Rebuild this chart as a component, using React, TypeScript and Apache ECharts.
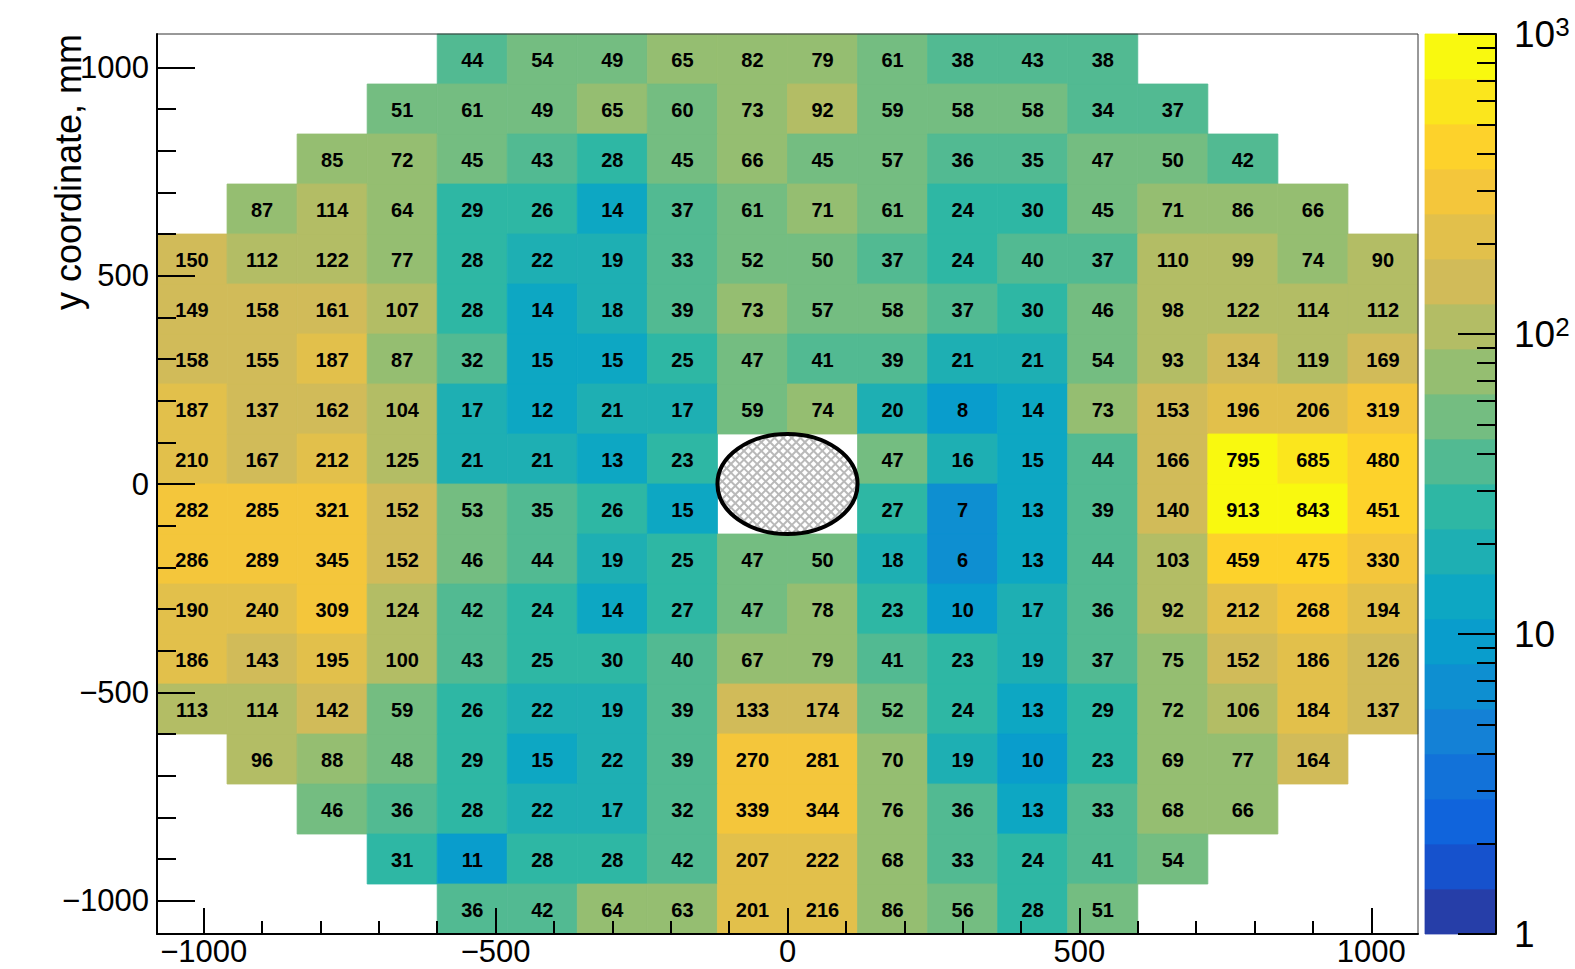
import React, { useEffect, useRef } from 'react';
import * as echarts from 'echarts';

// ---- data ----
const xCenters = [-1020, -900, -780, -660, -540, -420, -300, -180, -60, 60, 180, 300, 420, 540, 660, 780, 900, 1020];
const yCenters = [1020, 900, 780, 660, 540, 420, 300, 180, 60, -60, -180, -300, -420, -540, -660, -780, -900, -1020];
const binWidth = 120;
const _ = null;
const row01 = [_, _, _, _, 44, 54, 49, 65, 82, 79, 61, 38, 43, 38, _, _, _, _];
const row02 = [_, _, _, 51, 61, 49, 65, 60, 73, 92, 59, 58, 58, 34, 37, _, _, _];
const row03 = [_, _, 85, 72, 45, 43, 28, 45, 66, 45, 57, 36, 35, 47, 50, 42, _, _];
const row04 = [_, 87, 114, 64, 29, 26, 14, 37, 61, 71, 61, 24, 30, 45, 71, 86, 66, _];
const row05 = [150, 112, 122, 77, 28, 22, 19, 33, 52, 50, 37, 24, 40, 37, 110, 99, 74, 90];
const row06 = [149, 158, 161, 107, 28, 14, 18, 39, 73, 57, 58, 37, 30, 46, 98, 122, 114, 112];
const row07 = [158, 155, 187, 87, 32, 15, 15, 25, 47, 41, 39, 21, 21, 54, 93, 134, 119, 169];
const row08 = [187, 137, 162, 104, 17, 12, 21, 17, 59, 74, 20, 8, 14, 73, 153, 196, 206, 319];
const row09 = [210, 167, 212, 125, 21, 21, 13, 23, _, _, 47, 16, 15, 44, 166, 795, 685, 480];
const row10 = [282, 285, 321, 152, 53, 35, 26, 15, _, _, 27, 7, 13, 39, 140, 913, 843, 451];
const row11 = [286, 289, 345, 152, 46, 44, 19, 25, 47, 50, 18, 6, 13, 44, 103, 459, 475, 330];
const row12 = [190, 240, 309, 124, 42, 24, 14, 27, 47, 78, 23, 10, 17, 36, 92, 212, 268, 194];
const row13 = [186, 143, 195, 100, 43, 25, 30, 40, 67, 79, 41, 23, 19, 37, 75, 152, 186, 126];
const row14 = [113, 114, 142, 59, 26, 22, 19, 39, 133, 174, 52, 24, 13, 29, 72, 106, 184, 137];
const row15 = [_, 96, 88, 48, 29, 15, 22, 39, 270, 281, 70, 19, 10, 23, 69, 77, 164, _];
const row16 = [_, _, 46, 36, 28, 22, 17, 32, 339, 344, 76, 36, 13, 33, 68, 66, _, _];
const row17 = [_, _, _, 31, 11, 28, 28, 42, 207, 222, 68, 33, 24, 41, 54, _, _, _];
const row18 = [_, _, _, _, 36, 42, 64, 63, 201, 216, 86, 56, 28, 51, _, _, _, _];
const rows = [row01, row02, row03, row04, row05, row06, row07, row08, row09, row10, row11, row12, row13, row14, row15, row16, row17, row18];

// beam hole (x, y, radius x, radius y)
const hole = [0, 0, 120, 120];

const xMajorTicks = [-1000, -500, 0, 500, 1000];
const xMinorTicks = [-1000, -900, -800, -700, -600, -500, -400, -300, -200, -100, 0, 100, 200, 300, 400, 500, 600, 700, 800, 900, 1000];
const yMajorTicks = [-1000, -500, 0, 500, 1000];
const yMinorTicks = xMinorTicks;
const zMajorTicks = [1, 10, 100, 1000];
const zMinorTicks = [2, 3, 4, 5, 6, 7, 8, 9, 20, 30, 40, 50, 60, 70, 80, 90, 200, 300, 400, 500, 600, 700, 800, 900];
const zLogMin = 0;
const zLogMax = 3;
const nContours = 20;

// ---- ROOT kBird palette ----
const birdStops = [0.0, 0.125, 0.25, 0.375, 0.5, 0.625, 0.75, 0.875, 1.0];
const birdR = [0.2082, 0.0592, 0.078, 0.0232, 0.1802, 0.5301, 0.8186, 0.9956, 0.9764];
const birdG = [0.1664, 0.3599, 0.5041, 0.6419, 0.7178, 0.7492, 0.7328, 0.7862, 0.9832];
const birdB = [0.5293, 0.8684, 0.8385, 0.7914, 0.6425, 0.4662, 0.3499, 0.1968, 0.0539];

function buildPalette(n: number): string[] {
  const out: string[] = [];
  for (let g = 1; g < birdStops.length; g++) {
    const nc = Math.floor(n * birdStops[g]) - Math.floor(n * birdStops[g - 1]);
    for (let c = 0; c < nc; c++) {
      const r = birdR[g - 1] + (c * (birdR[g] - birdR[g - 1])) / nc;
      const gg = birdG[g - 1] + (c * (birdG[g] - birdG[g - 1])) / nc;
      const b = birdB[g - 1] + (c * (birdB[g] - birdB[g - 1])) / nc;
      const h = (x: number) => Math.round(x * 255).toString(16).padStart(2, '0');
      out.push('#' + h(r) + h(gg) + h(b));
    }
  }
  return out;
}
const palette = buildPalette(255);
const bandStep = (zLogMax - zLogMin) / nContours;
const bandColors: string[] = [];
for (let i = 0; i < nContours; i++) {
  bandColors.push(palette[Math.floor(((i + 0.99) * palette.length) / nContours)]);
}

const FONT = 'Liberation Sans, Arial, Helvetica, sans-serif';
const minus = (v: number) => (v < 0 ? '\u2212' + Math.abs(v) : String(v));

export default function App() {
  const ref = useRef<HTMLDivElement>(null);
  useEffect(() => {
    if (!ref.current) return;
    const chart = echarts.init(ref.current, undefined, { renderer: 'svg' });

    const cellData: any[] = [];
    rows.forEach((row, ri) => {
      row.forEach((v, ci) => {
        if (v !== null && v !== undefined) {
          cellData.push([xCenters[ci], yCenters[ri], Math.log10(v), v]);
        }
      });
    });
    const bandData: any[] = [];
    for (let i = 0; i < nContours; i++) {
      const lo = zLogMin + i * bandStep;
      const hi = lo + bandStep;
      bandData.push([lo, hi, (lo + hi) / 2]);
    }

    const pieces = bandColors.map((color, i) => ({
      gte: i === 0 ? -10 : (i - 0.01) * bandStep,
      lt: i === nContours - 1 ? 10 : (i + 0.99) * bandStep,
      color,
    }));

    const tickLine = { color: '#000', width: 2 };
    const option: any = {
      animation: false,
      backgroundColor: '#fff',
      textStyle: { fontFamily: FONT },
      grid: [
        { left: 157, top: 34, width: 1261, height: 900, show: true, borderColor: '#333', borderWidth: 1, backgroundColor: 'transparent', z: 10 },
        { left: 1425, top: 34, width: 71, height: 900, show: false },
      ],
      visualMap: {
        type: 'piecewise',
        show: false,
        dimension: 2,
        seriesIndex: [0, 1],
        pieces,
      },
      xAxis: [
        {
          gridIndex: 0, type: 'value', min: -1080, max: 1080, position: 'bottom', z: 10,
          axisLine: { show: true, onZero: false, lineStyle: tickLine },
          axisTick: { show: true, inside: true, length: 26, customValues: xMajorTicks, lineStyle: tickLine },
          axisLabel: { customValues: xMajorTicks, formatter: minus, fontSize: 31, color: '#000', fontFamily: FONT, margin: 5, lineHeight: 24 },
          splitLine: { show: false },
        },
        {
          gridIndex: 0, type: 'value', min: -1080, max: 1080, position: 'bottom', z: 10,
          axisLine: { show: false, onZero: false },
          axisTick: { show: true, inside: true, length: 13, customValues: xMinorTicks, lineStyle: tickLine },
          axisLabel: { show: false },
          splitLine: { show: false },
        },
        { gridIndex: 1, type: 'value', min: 0, max: 1, show: false, axisLine: { onZero: false } },
      ],
      yAxis: [
        {
          gridIndex: 0, type: 'value', min: -1080, max: 1080, position: 'left', z: 10,
          axisLine: { show: true, onZero: false, lineStyle: tickLine },
          axisTick: { show: true, inside: true, length: 38, customValues: yMajorTicks, lineStyle: tickLine },
          axisLabel: { customValues: yMajorTicks, formatter: minus, fontSize: 31, color: '#000', fontFamily: FONT, margin: 8 },
          splitLine: { show: false },
        },
        {
          gridIndex: 0, type: 'value', min: -1080, max: 1080, position: 'left', z: 10,
          axisLine: { show: false, onZero: false },
          axisTick: { show: true, inside: true, length: 19, customValues: yMinorTicks, lineStyle: tickLine },
          axisLabel: { show: false },
          splitLine: { show: false },
        },
        {
          gridIndex: 1, type: 'value', min: zLogMin, max: zLogMax, position: 'right', z: 10,
          axisLine: { show: true, onZero: false, lineStyle: tickLine },
          axisTick: { show: true, inside: true, length: 38, customValues: zMajorTicks.map(Math.log10), lineStyle: tickLine },
          axisLabel: {
            customValues: zMajorTicks.map(Math.log10),
            margin: 18,
            formatter: (v: number) => {
              const e = Math.round(v);
              if (e === 0) return '{b|1}';
              if (e === 1) return '{b|10}';
              return '{b|10}{s|' + e + '}';
            },
            rich: {
              b: { fontSize: 37, fontFamily: FONT, color: '#000', lineHeight: 40 },
              s: { fontSize: 26, fontFamily: FONT, color: '#000', verticalAlign: 'top', lineHeight: 40 },
            },
          },
          splitLine: { show: false },
        },
        {
          gridIndex: 1, type: 'value', min: zLogMin, max: zLogMax, position: 'right', z: 10,
          axisLine: { show: false, onZero: false },
          axisTick: { show: true, inside: true, length: 19, customValues: zMinorTicks.map(Math.log10), lineStyle: tickLine },
          axisLabel: { show: false },
          splitLine: { show: false },
        },
      ],
      graphic: [
        {
          type: 'text', x: 68, y: 34, rotation: Math.PI / 2,
          style: { text: 'y coordinate, mm', fontSize: 36, fontFamily: FONT, fill: '#000', align: 'right', verticalAlign: 'middle' },
        },
      ],
      series: [
        {
          type: 'custom',
          xAxisIndex: 0,
          yAxisIndex: 0,
          data: cellData,
          encode: { x: 0, y: 1 },
          renderItem: (params: any, api: any) => {
            const x = api.value(0);
            const y = api.value(1);
            const v = api.value(3);
            const p0 = api.coord([x - binWidth / 2, y + binWidth / 2]);
            const p1 = api.coord([x + binWidth / 2, y - binWidth / 2]);
            const color = api.visual('color');
            return {
              type: 'group',
              children: [
                {
                  type: 'rect',
                  shape: { x: p0[0], y: p0[1], width: p1[0] - p0[0], height: p1[1] - p0[1] },
                  style: { fill: color, stroke: color, lineWidth: 0.8 },
                },
                {
                  type: 'text',
                  x: (p0[0] + p1[0]) / 2,
                  y: (p0[1] + p1[1]) / 2 + 1,
                  z2: 10,
                  style: { text: String(v), fontSize: 20, fontWeight: 'bold', fontFamily: FONT, fill: '#000', align: 'center', verticalAlign: 'middle' },
                },
              ],
            };
          },
        },
        {
          type: 'custom',
          xAxisIndex: 2,
          yAxisIndex: 2,
          data: bandData,
          encode: { y: [0, 1] },
          renderItem: (params: any, api: any) => {
            const lo = api.value(0);
            const hi = api.value(1);
            const p0 = api.coord([0, hi]);
            const p1 = api.coord([1, lo]);
            const color = api.visual('color');
            return {
              type: 'rect',
              shape: { x: p0[0], y: p0[1], width: p1[0] - p0[0], height: p1[1] - p0[1] },
              style: { fill: color, stroke: color, lineWidth: 0.8 },
            };
          },
        },
        {
          type: 'custom',
          xAxisIndex: 0,
          yAxisIndex: 0,
          data: [hole],
          encode: { x: 0, y: 1 },
          z: 5,
          renderItem: (params: any, api: any) => {
            const c = api.coord([api.value(0), api.value(1)]);
            const s = api.size([api.value(2), api.value(3)]);
            const rx = s[0];
            const ry = s[1];
            const children: any[] = [
              { type: 'ellipse', shape: { cx: c[0], cy: c[1], rx, ry }, style: { fill: '#fff' } },
            ];
            const step = 8.7;
            const A = 1 / (rx * rx) + 1 / (ry * ry);
            for (let k = -(rx + ry); k <= rx + ry; k += step) {
              for (const sg of [1, -1]) {
                const B = (2 * sg * k) / (ry * ry);
                const C = (k * k) / (ry * ry) - 1;
                const D = B * B - 4 * A * C;
                if (D <= 0) continue;
                const X1 = (-B - Math.sqrt(D)) / (2 * A);
                const X2 = (-B + Math.sqrt(D)) / (2 * A);
                children.push({
                  type: 'line',
                  shape: { x1: c[0] + X1, y1: c[1] + sg * X1 + k, x2: c[0] + X2, y2: c[1] + sg * X2 + k },
                  style: { stroke: '#b9b9b9', lineWidth: 2 },
                });
              }
            }
            children.push({ type: 'ellipse', shape: { cx: c[0], cy: c[1], rx, ry }, style: { fill: 'none', stroke: '#000', lineWidth: 4 } });
            return { type: 'group', children };
          },
        },
      ],
    };
    chart.setOption(option);
    return () => chart.dispose();
  }, []);
  return <div ref={ref} style={{ position: 'fixed', left: 0, top: 0, width: 1575, height: 969 }} />;
}
